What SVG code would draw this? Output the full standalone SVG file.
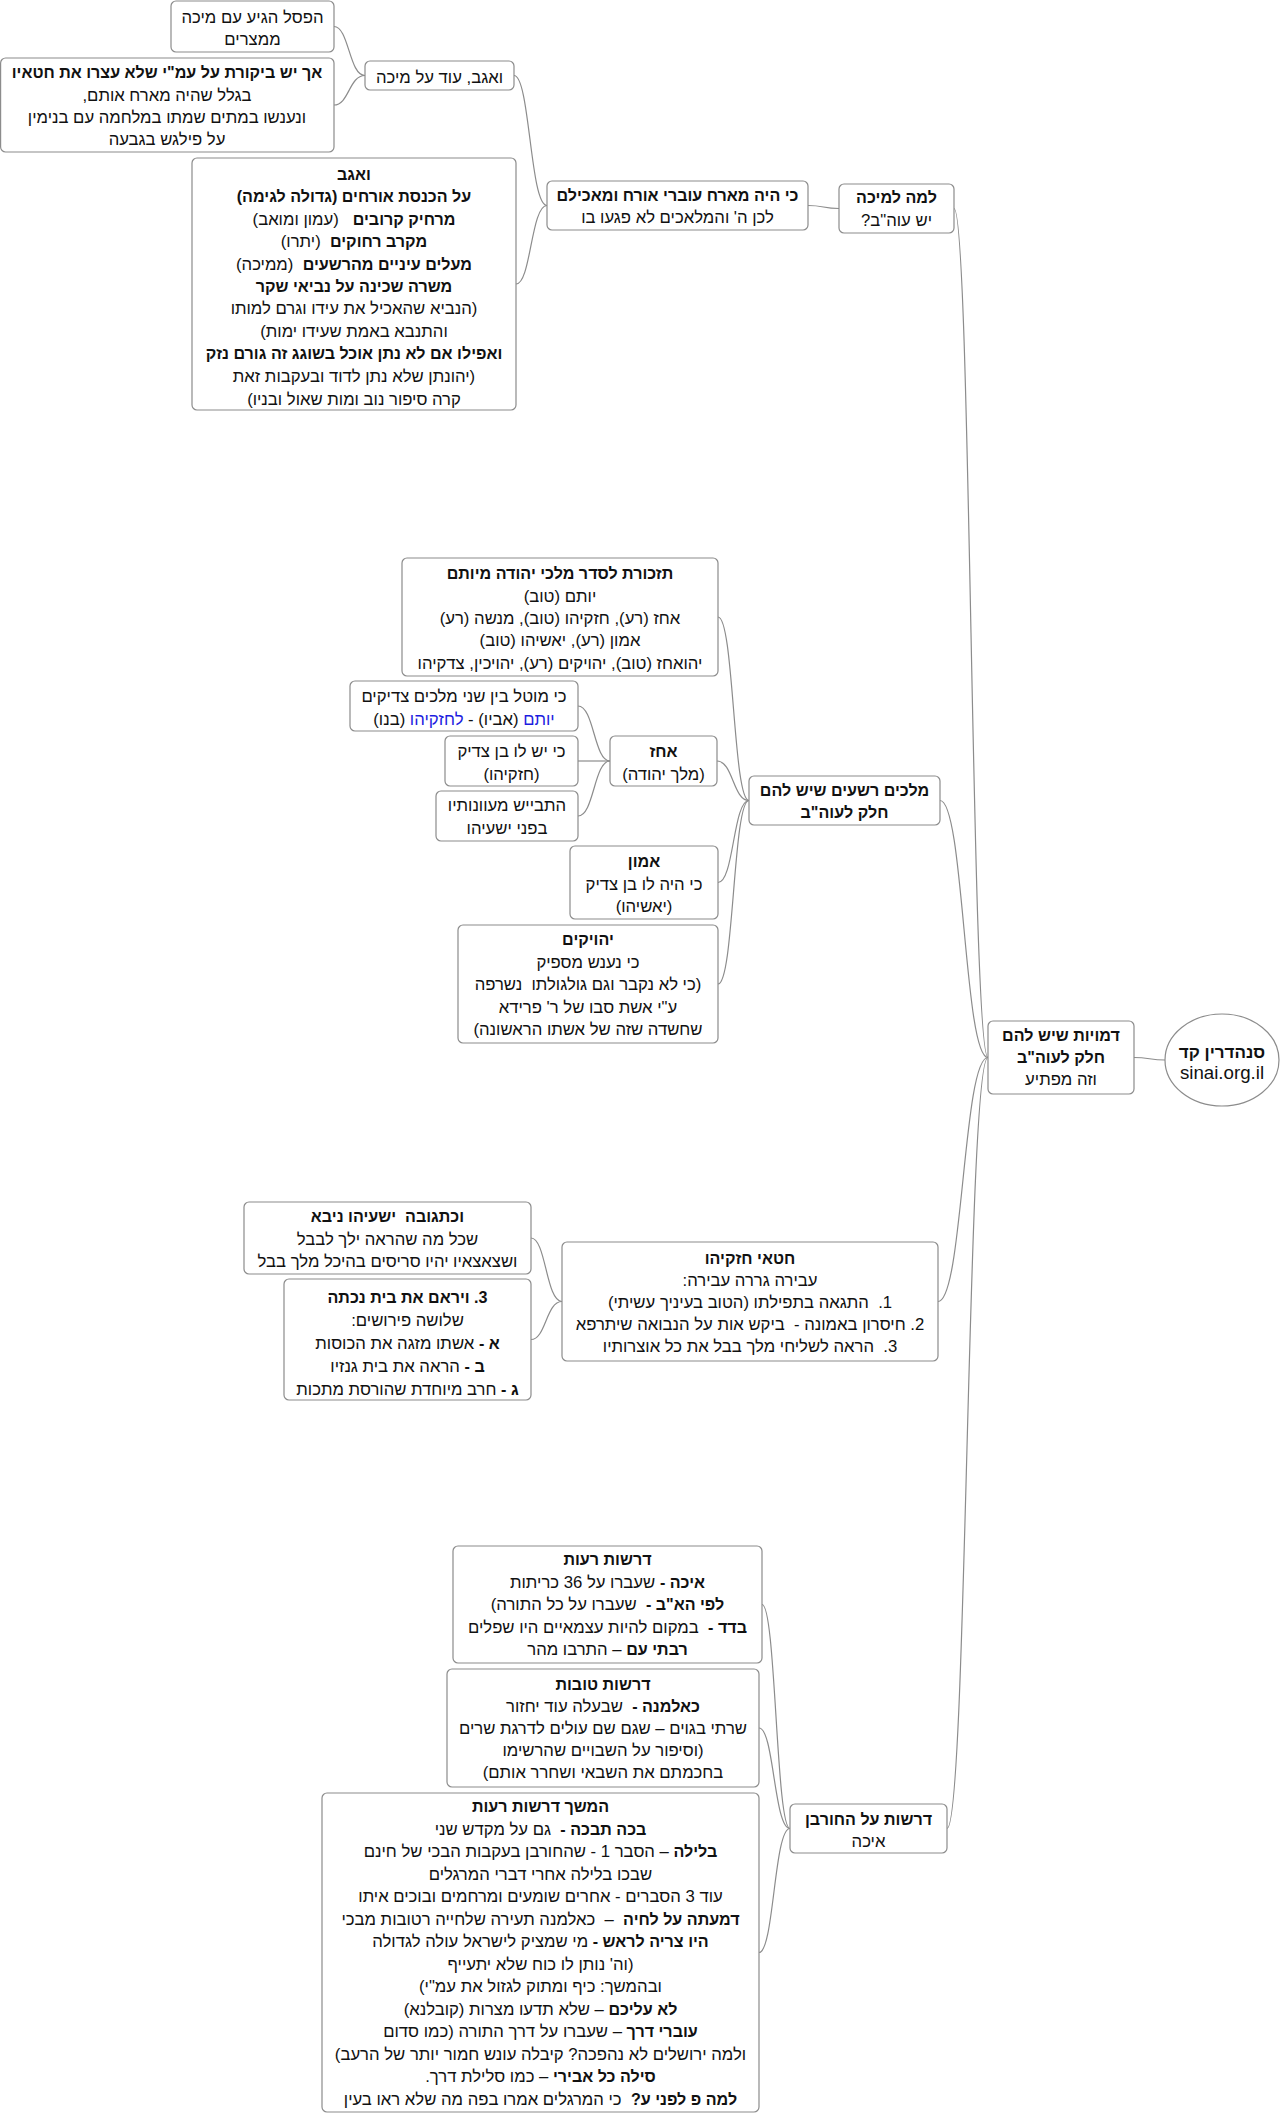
<svg xmlns="http://www.w3.org/2000/svg" width="1280" height="2113" viewBox="0 0 1280 2113">
<style>
.box{fill:#fff;stroke:#8c8c8c;stroke-width:1.2}
.conn{fill:none;stroke:#8c8c8c;stroke-width:1.2}
text{font-family:"Liberation Sans",Arial,"DejaVu Sans",sans-serif;font-size:16.7px;fill:#111;text-anchor:middle;direction:rtl}
.b{font-weight:bold;font-size:16.1px}
.blue{fill:#1c1ce0}
.root{font-size:18.7px}
.rootb{font-weight:bold;font-size:17px}
</style>
<rect width="1280" height="2113" fill="#fff"/>
<g id="connectors">
<path class="conn" d="M1165,1060 C1150,1060 1149,1057.5 1134,1057.5"/>
<path class="conn" d="M988,1057.5 C971,1057.5 971,208.5 954,208.5"/>
<path class="conn" d="M988,1057.5 C964,1057.5 964,800.5 940,800.5"/>
<path class="conn" d="M988,1057.5 C963,1057.5 963,1301.5 938,1301.5"/>
<path class="conn" d="M988,1057.5 C967,1057.5 967,1828.5 947,1828.5"/>
<path class="conn" d="M839,208.5 C823,208.5 824,205.5 808,205.5"/>
<path class="conn" d="M547,205.5 C530,205.5 530,75.5 514,75.5"/>
<path class="conn" d="M547,205.5 C531,205.5 531,284 516,284"/>
<path class="conn" d="M365,75.5 C349,75.5 349,26.5 334,26.5"/>
<path class="conn" d="M365,75.5 C349,75.5 349,105 334,105"/>
<path class="conn" d="M749,800.5 C733,800.5 734,617 718,617"/>
<path class="conn" d="M749,800.5 C733,800.5 733,761 717,761"/>
<path class="conn" d="M749,800.5 C733,800.5 734,882.5 718,882.5"/>
<path class="conn" d="M749,800.5 C733,800.5 734,984 718,984"/>
<path class="conn" d="M610,761 C594,761 594,706 578,706"/>
<path class="conn" d="M610,761 L578,761"/>
<path class="conn" d="M610,761 C594,761 594,816 578,816"/>
<path class="conn" d="M562,1301.5 C546,1301.5 546,1238 531,1238"/>
<path class="conn" d="M562,1301.5 C546,1301.5 546,1339.5 531,1339.5"/>
<path class="conn" d="M790,1828.5 C776,1828.5 776,1604.5 762,1604.5"/>
<path class="conn" d="M790,1828.5 C774,1828.5 774,1728 759,1728"/>
<path class="conn" d="M790,1828.5 C774,1828.5 774,1952.5 759,1952.5"/>
</g>
<g id="root">
<ellipse class="box" cx="1222" cy="1060" rx="57" ry="46"/>
<text class="rootb" x="1222" y="1058">סנהדרין קד</text>
<text class="root" x="1222" y="1079">sinai.org.il</text>
</g>
<g id="dmuyot">
<rect class="box" x="988" y="1021" width="146" height="73" rx="5"/>
<text class="b" x="1061" y="1041">דמויות שיש להם</text>
<text class="b" x="1061" y="1063">חלק לעוה"ב</text>
<text x="1061" y="1085">וזה מפתיע</text>
</g>
<g id="lama">
<rect class="box" x="839" y="184" width="115" height="49" rx="5"/>
<text class="b" x="896.5" y="203">למה למיכה</text>
<text x="896.5" y="226">יש עוה"ב?</text>
</g>
<g id="kihaya">
<rect class="box" x="547" y="181" width="261" height="49" rx="5"/>
<text class="b" x="677.5" y="201">כי היה מארח עוברי אורח ומאכילם</text>
<text x="677.5" y="223">לכן ה' והמלאכים לא פגעו בו</text>
</g>
<g id="veagav">
<rect class="box" x="365" y="61" width="149" height="29" rx="5"/>
<text x="439.5" y="83">ואגב, עוד על מיכה</text>
</g>
<g id="pesel">
<rect class="box" x="171" y="1" width="163" height="51" rx="5"/>
<text x="252.5" y="23">הפסל הגיע עם מיכה</text>
<text x="252.5" y="45">ממצרים</text>
</g>
<g id="ach">
<rect class="box" x="0.6" y="58" width="333.4" height="94" rx="5"/>
<text class="b" x="167" y="78">אך יש ביקורת על עמ"י שלא עצרו את חטאיו</text>
<text x="167" y="101">בגלל שהיה מארח אותם,</text>
<text x="167" y="123">ונענשו במתים שמתו במלחמה עם בנימין</text>
<text x="167" y="145">על פילגש בגבעה</text>
</g>
<g id="hachnasat">
<rect class="box" x="192" y="158" width="324" height="252" rx="5"/>
<text class="b" x="354" y="180">ואגב</text>
<text class="b" x="354" y="202">על הכנסת אורחים (גדולה לגימה)</text>
<text x="354" y="225" xml:space="preserve"><tspan class="b">מרחיק קרובים</tspan>   (עמון ומואב)</text>
<text x="354" y="247" xml:space="preserve"><tspan class="b">מקרב רחוקים</tspan>  (יתרו)</text>
<text x="354" y="270" xml:space="preserve"><tspan class="b">מעלים עיניים מהרשעים</tspan>  (ממיכה)</text>
<text class="b" x="354" y="292">משרה שכינה על נביאי שקר</text>
<text x="354" y="314">(הנביא שהאכיל את עידו וגרם למותו</text>
<text x="354" y="337">והתנבא באמת שעידו ימות)</text>
<text class="b" x="354" y="359">ואפילו אם לא נתן אוכל בשוגג זה גורם נזק</text>
<text x="354" y="382">(יהונתן שלא נתן לדוד ובעקבות זאת</text>
<text x="354" y="405">קרה סיפור נוב ומות שאול ובניו)</text>
</g>
<g id="malachim">
<rect class="box" x="749" y="776" width="191" height="49" rx="5"/>
<text class="b" x="844.5" y="796">מלכים רשעים שיש להם</text>
<text class="b" x="844.5" y="818">חלק לעוה"ב</text>
</g>
<g id="tazkoret">
<rect class="box" x="402" y="558" width="316" height="118" rx="5"/>
<text class="b" x="560" y="579">תזכורת לסדר מלכי יהודה מיותם</text>
<text x="560" y="602">יותם (טוב)</text>
<text x="560" y="624">אחז (רע), חזקיהו (טוב), מנשה (רע)</text>
<text x="560" y="646">אמון (רע), יאשיהו (טוב)</text>
<text x="560" y="669">יהואחז (טוב), יהויקים (רע), יהויכין, צדקיהו</text>
</g>
<g id="achaz">
<rect class="box" x="610" y="736" width="107" height="50" rx="5"/>
<text class="b" x="663.5" y="757">אחז</text>
<text x="663.5" y="780">(מלך יהודה)</text>
</g>
<g id="kimutal">
<rect class="box" x="350" y="681" width="228" height="50" rx="5"/>
<text x="464" y="702">כי מוטל בין שני מלכים צדיקים</text>
<text x="464" y="725"><tspan class="blue">יותם</tspan> (אביו) - <tspan class="blue">לחזקיהו</tspan> (בנו)</text>
</g>
<g id="yeshlo">
<rect class="box" x="445" y="736" width="133" height="50" rx="5"/>
<text x="511.5" y="757">כי יש לו בן צדיק</text>
<text x="511.5" y="780">(חזקיהו)</text>
</g>
<g id="hitbayesh">
<rect class="box" x="436" y="791" width="142" height="50" rx="5"/>
<text x="507" y="811">התבייש מעוונותיו</text>
<text x="507" y="834">בפני ישעיהו</text>
</g>
<g id="amon">
<rect class="box" x="570" y="846" width="148" height="73" rx="5"/>
<text class="b" x="644" y="867">אמון</text>
<text x="644" y="890">כי היה לו בן צדיק</text>
<text x="644" y="912">(יאשיהו)</text>
</g>
<g id="yehoyakim">
<rect class="box" x="458" y="925" width="260" height="118" rx="5"/>
<text class="b" x="588" y="945">יהויקים</text>
<text x="588" y="968">כי נענש מספיק</text>
<text x="588" y="990" xml:space="preserve">(כי לא נקבר וגם גולגולתו  נשרפה</text>
<text x="588" y="1013">ע"י אשת סבו של ר' פרידא</text>
<text x="588" y="1035">שחשדה שזה של אשתו הראשונה)</text>
</g>
<g id="chatei">
<rect class="box" x="562" y="1242" width="376" height="119" rx="5"/>
<text class="b" x="750" y="1264">חטאי חזקיהו</text>
<text x="750" y="1286">עבירה גררה עבירה:</text>
<text x="750" y="1308" xml:space="preserve">1.  התגאה בתפילתו (הטוב בעיניך עשיתי)</text>
<text x="750" y="1330" xml:space="preserve">2. חיסרון באמונה -  ביקש אות על הנבואה שיתרפא</text>
<text x="750" y="1352" xml:space="preserve">3.  הראה לשליחי מלך בבל את כל אוצרותיו</text>
</g>
<g id="uchtguva">
<rect class="box" x="244" y="1202" width="287" height="72" rx="5"/>
<text class="b" x="387.5" y="1222" xml:space="preserve">וכתגובה  ישעיהו ניבא</text>
<text x="387.5" y="1244.5">שכל מה שהראה ילך לבבל</text>
<text x="387.5" y="1267">ושצאצאיו יהיו סריסים בהיכל מלך בבל</text>
</g>
<g id="vayarem">
<rect class="box" x="284" y="1279" width="247" height="121" rx="5"/>
<text class="b" x="407.5" y="1303">3. ויראם את בית נכתה</text>
<text x="407.5" y="1326">שלושה פירושים:</text>
<text x="407.5" y="1349"><tspan class="b">א -</tspan> אשתו מזגה את הכוסות</text>
<text x="407.5" y="1372"><tspan class="b">ב -</tspan> הראה את בית גנזיו</text>
<text x="407.5" y="1395"><tspan class="b">ג -</tspan> חרב מיוחדת שהורסת מתכות</text>
</g>
<g id="drashot">
<rect class="box" x="790" y="1804" width="157" height="49" rx="5"/>
<text class="b" x="868.5" y="1825">דרשות על החורבן</text>
<text x="868.5" y="1847">איכה</text>
</g>
<g id="raot">
<rect class="box" x="453" y="1546" width="309" height="117" rx="5"/>
<text class="b" x="607.5" y="1565">דרשות רעות</text>
<text x="607.5" y="1587.5"><tspan class="b">איכה -</tspan> שעברו על 36 כריתות</text>
<text x="607.5" y="1610" xml:space="preserve"><tspan class="b">לפי הא"ב -</tspan>  שעברו על כל התורה)</text>
<text x="607.5" y="1632.5" xml:space="preserve"><tspan class="b">בדד -</tspan>  במקום להיות עצמאיים היו שפלים</text>
<text x="607.5" y="1655"><tspan class="b">רבתי עם</tspan> – התרבו מהר</text>
</g>
<g id="tovot">
<rect class="box" x="447" y="1669" width="312" height="118" rx="5"/>
<text class="b" x="603" y="1690">דרשות טובות</text>
<text x="603" y="1712" xml:space="preserve"><tspan class="b">כאלמנה -</tspan>  שבעלה עוד יחזור</text>
<text x="603" y="1734">שרתי בגוים – שגם שם עולים לדרגת שרים</text>
<text x="603" y="1756">(וסיפור על השבויים שהרשימו</text>
<text x="603" y="1778">בחכמתם את השבאי ושחרר אותם)</text>
</g>
<g id="hemshech">
<rect class="box" x="322" y="1793" width="437" height="319" rx="5"/>
<text class="b" x="540.5" y="1812">המשך דרשות רעות</text>
<text x="540.5" y="1834.5" xml:space="preserve"><tspan class="b">בכה תבכה -</tspan>  גם על מקדש שני</text>
<text x="540.5" y="1857"><tspan class="b">בלילה</tspan> – הסבר 1 - שהחורבן בעקבות הבכי של חינם</text>
<text x="540.5" y="1879.5">שבכו בלילה אחרי דברי המרגלים</text>
<text x="540.5" y="1902">עוד 3 הסברים - אחרים שומעים ומרחמים ובוכים איתו</text>
<text x="540.5" y="1924.5" xml:space="preserve"><tspan class="b">דמעתה על לחיה</tspan>  –  כאלמנה תעירה שלחייה רטובות מבכי</text>
<text x="540.5" y="1947"><tspan class="b">היו צריה לראש -</tspan> מי שמציק לישראל עולה לגדולה</text>
<text x="540.5" y="1969.5">(וה' נותן לו כוח שלא יתעייף</text>
<text x="540.5" y="1992">ובהמשך: כיף ומתוק לגזול את עמ"י)</text>
<text x="540.5" y="2014.5"><tspan class="b">לא עליכם</tspan> – שלא תדעו מצרות (קובלנא)</text>
<text x="540.5" y="2037"><tspan class="b">עוברי דרך</tspan> – שעברו על דרך התורה (כמו סדום</text>
<text x="540.5" y="2059.5">ולמה ירושלים לא נהפכה? קיבלה עונש חמור יותר של הרעב)</text>
<text x="540.5" y="2082"><tspan class="b">סילה כל אבירי</tspan> – כמו סלילת דרך.</text>
<text x="540.5" y="2104.5" xml:space="preserve"><tspan class="b">למה פ לפני ע?</tspan>  כי המרגלים אמרו בפה מה שלא ראו בעין</text>
</g>
</svg>
